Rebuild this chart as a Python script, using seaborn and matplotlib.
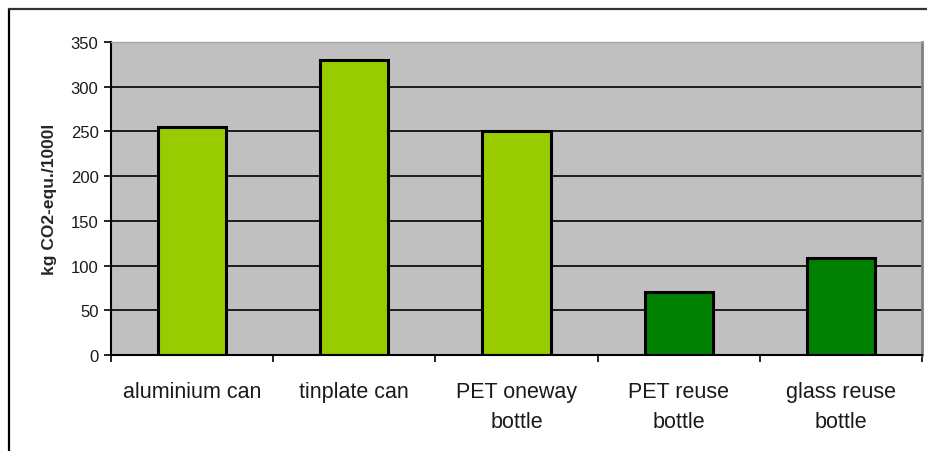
import matplotlib
matplotlib.use('Agg')
import matplotlib.pyplot as plt
from matplotlib.lines import Line2D
import seaborn as sns
import pandas as pd

kategorie = ['aluminium can', 'tinplate can', 'PET oneway\nbottle',
             'PET reuse\nbottle', 'glass reuse\nbottle']
emisje = [255, 330, 250, 70, 109]
kolory = ['#99CC00', '#99CC00', '#99CC00', '#008000', '#008000']
podzialka_y = [0, 50, 100, 150, 200, 250, 300, 350]

sns.set_style('white')
plt.rcParams['font.family'] = ['Liberation Sans', 'DejaVu Sans']

dane = pd.DataFrame({'opakowanie': kategorie, 'co2': emisje})

fig = plt.figure(figsize=(9.27, 4.52), dpi=100)
osie = fig.add_axes([111 / 927, 1 - 356 / 452, 811 / 927, 313 / 452])
osie.set_facecolor('#C0C0C0')
osie.set_axisbelow(True)

sns.barplot(data=dane, x='opakowanie', y='co2', hue='opakowanie',
            palette=kolory, legend=False, width=0.42, saturation=1,
            edgecolor='black', linewidth=2.2, ax=osie)

osie.set_ylim(0, 350)
osie.set_xlim(-0.5, len(kategorie) - 0.5)
osie.set_yticks(podzialka_y)
osie.yaxis.grid(True, color='black', linewidth=1.2)
osie.xaxis.grid(False)

osie.set_xticks(range(len(kategorie)))
osie.set_xticklabels(kategorie, fontsize=15.5, color='#1a1a1a', linespacing=1.55)
osie.set_xticks([i - 0.5 for i in range(len(kategorie) + 1)], minor=True)
osie.tick_params(axis='x', which='major', length=0, pad=19)
osie.tick_params(axis='x', which='minor', length=5, width=1.2, color='black',
                 direction='out', bottom=True)
osie.tick_params(axis='y', length=5, width=1.2, color='black', direction='out',
                 left=True, labelsize=12, pad=4, labelcolor='#1a1a1a')
for t in osie.get_xticklabels():
    t.set_verticalalignment('top')

osie.set_xlabel('')
osie.set_ylabel('kg CO2-equ./1000l', fontsize=12.5, fontweight='bold', labelpad=10)

for strona in ['left', 'bottom']:
    osie.spines[strona].set_color('black')
    osie.spines[strona].set_linewidth(1.5)
osie.spines['top'].set_color('#A8A8A8')
osie.spines['top'].set_linewidth(1)
osie.spines['right'].set_color('#808080')
osie.spines['right'].set_linewidth(2)

# ramka wokol calego wykresu
fig.add_artist(Line2D([9 / 927, 9 / 927], [0, 1 - 10 / 452], color='black',
                      linewidth=1.6, transform=fig.transFigure))
fig.add_artist(Line2D([9 / 927, 1], [1 - 10 / 452, 1 - 10 / 452], color='#333333',
                      linewidth=1.6, transform=fig.transFigure))

fig.savefig('out.png', dpi=100)
